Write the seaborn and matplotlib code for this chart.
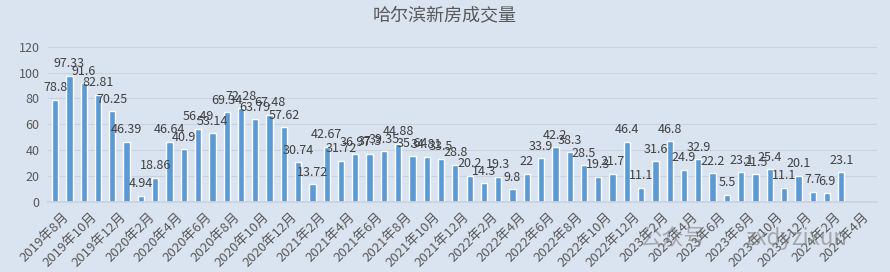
import numpy as np
import pandas as pd
import matplotlib
matplotlib.use("Agg")
import matplotlib.pyplot as plt
import matplotlib.transforms as mtransforms
import seaborn as sns

# ---- data ----
years_months = []
for y in range(2019, 2025):
    for m in range(1, 13):
        if (y == 2019 and m < 8) or (y == 2024 and m > 5):
            continue
        years_months.append(f"{y}年{m}月")
months = years_months

values = [78.8, 97.33, 91.6, 82.81, 70.25,
          46.39, 4.94, 18.86, 46.64, 40.9, 56.49, 53.14, 69.34, 72.28, 63.79, 67.48, 57.62,
          30.74, 13.72, 42.67, 31.72, 36.97, 37.3, 39.35, 44.88, 35.64, 34.81, 33.5, 28.8,
          20.2, 14.3, 19.3, 9.8, 22, 33.9, 42.2, 38.3, 28.5, 19.3, 21.7, 46.4,
          11.1, 31.6, 46.8, 24.9, 32.9, 22.2, 5.5, 23.1, 21.5, 25.4, 11.1, 20.1,
          7.7, 6.9, 23.1, np.nan, np.nan]

title = "哈尔滨新房成交量"
yticks = [0, 20, 40, 60, 80, 100, 120]

df = pd.DataFrame({"month": months, "value": values}).dropna()

# ---- style ----
bg = "#DAE3F0"
bar_color = "#5B9BD5"
text_color = "#595959"
sns.set_theme(style="white")
plt.rcParams["font.family"] = ["Noto Sans CJK SC", "DejaVu Sans"]

fig = plt.figure(figsize=(8.9, 2.72), dpi=100, facecolor=bg)
ax = fig.add_axes([48 / 890, 1 - 202 / 272, (877 - 48) / 890, (202 - 46.7) / 272])
ax.set_facecolor(bg)

sns.barplot(data=df, x="month", y="value", order=months, color=bar_color,
            width=0.44, saturation=1, ax=ax, errorbar=None)

ax.set_ylim(0, 120)
ax.set_xlim(-0.5, len(months) - 0.5)
ax.set_yticks(yticks)
ax.set_yticklabels([str(t) for t in yticks], fontsize=9, color=text_color)
ax.yaxis.grid(True, color="#C9D2DF", linewidth=0.8)
ax.set_axisbelow(True)
for s in ["top", "right", "left"]:
    ax.spines[s].set_visible(False)
ax.spines["bottom"].set_color("#C9D2DF")
ax.tick_params(axis="y", length=0, pad=6)

# x ticks every 2 months
tick_idx = list(range(0, len(months), 2))
ax.set_xticks(tick_idx)
ax.set_xticklabels([months[i] for i in tick_idx], rotation=45, ha="right",
                   rotation_mode="anchor", fontsize=9.5, color=text_color)
ax.tick_params(axis="x", length=0, pad=6)
offset = mtransforms.ScaledTranslation(7 / 100, 0, fig.dpi_scale_trans)
for lbl in ax.get_xticklabels():
    lbl.set_transform(lbl.get_transform() + offset)
ax.set_xlabel("")
ax.set_ylabel("")

# data labels
labels = [f"{v:g}" for v in df["value"]]
ax.bar_label(ax.containers[0], labels=labels, padding=4, fontsize=9,
             color="#404040")

fig.text(0.5, 1 - 16 / 272, title, ha="center", va="center", fontsize=13,
         color=text_color)

# watermark
fig.text(640 / 890, 1 - 238 / 272, "公众号", ha="left", va="center", fontsize=16,
         color="#7a7a7a", alpha=0.55)
fig.text(745 / 890, 1 - 238 / 272, "zxdyzixun", ha="left", va="center",
         fontsize=16, color="#7a7a7a", alpha=0.55)

fig.savefig("out.png", dpi=100, facecolor=bg)
